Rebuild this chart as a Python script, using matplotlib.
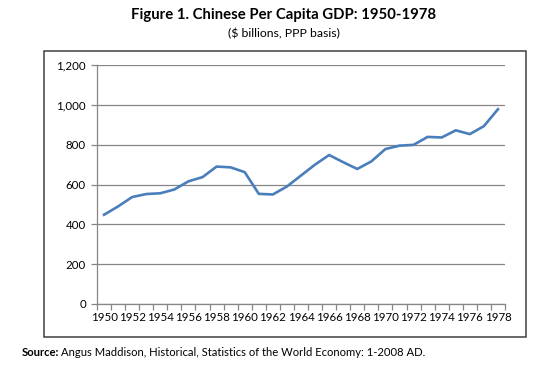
import matplotlib.pyplot as plt
from matplotlib.patches import Rectangle
from matplotlib.ticker import FuncFormatter, FixedLocator

plt.rcParams['font.family'] = ['Lato', 'DejaVu Sans']

years = list(range(1950, 1979))
gdp = [448, 490, 537, 552, 556, 575, 616, 637, 690, 686, 662, 553, 550, 590, 645, 700, 748, 712, 678, 716, 778, 795, 799, 839, 836, 872, 853, 893, 978]
y_ticks = [0, 200, 400, 600, 800, 1000, 1200]

LINE_COLOR = '#4A7EBB'
GRID_COLOR = '#868686'

fig = plt.figure(figsize=(5.59, 3.73), dpi=100)

# chart frame
fig.patches.append(Rectangle((44 / 559, 1 - 337 / 373), (526 - 44) / 559, (337 - 51) / 373,
                             transform=fig.transFigure, fill=False, edgecolor='#404040', linewidth=1.1))

ax = fig.add_axes([97 / 559, 1 - 304 / 373, (505 - 97) / 559, (304 - 65) / 373])
x = list(range(len(years)))
ax.plot(x, gdp, color=LINE_COLOR, linewidth=1.9, solid_joinstyle='round', zorder=3)

ax.set_xlim(-0.5, len(years) - 0.5)
ax.set_ylim(0, 1200)
ax.set_yticks(y_ticks)
ax.yaxis.set_major_formatter(FuncFormatter(lambda v, p: f'{int(v):,}'))
ax.grid(axis='y', color=GRID_COLOR, linewidth=0.9)
ax.set_axisbelow(True)

ax.set_xticks(x[::2])
ax.set_xticklabels([str(y) for y in years[::2]])
ax.xaxis.set_minor_locator(FixedLocator([i - 0.5 for i in range(len(years) + 1)]))
ax.tick_params(axis='x', which='major', length=0, pad=6, labelsize=8.3)
ax.tick_params(axis='x', which='minor', length=4, color=GRID_COLOR, width=0.9)
ax.tick_params(axis='y', length=4, color=GRID_COLOR, width=0.9, labelsize=8.3, pad=4)

for side in ('top', 'right'):
    ax.spines[side].set_visible(False)
for side in ('left', 'bottom'):
    ax.spines[side].set_color(GRID_COLOR)
    ax.spines[side].set_linewidth(0.9)

fig.text(284 / 559, 1 - 15 / 373, 'Figure 1. Chinese Per Capita GDP: 1950-1978',
         ha='center', va='center', fontsize=10.7, fontweight='bold')
fig.text(284 / 559, 1 - 34 / 373, '($ billions, PPP basis)', ha='center', va='center', fontsize=8.8)

src = fig.text(22 / 559, 1 - 353 / 373, 'Source:', ha='left', va='center', fontsize=8.1, fontweight='bold')
fig.canvas.draw()
bb = src.get_window_extent()
fig.text((bb.x1 + 2) / 559, 1 - 353 / 373,
         'Angus Maddison, Historical, Statistics of the World Economy: 1-2008 AD.',
         ha='left', va='center', fontsize=8.1)

fig.savefig('out.png', dpi=100)
